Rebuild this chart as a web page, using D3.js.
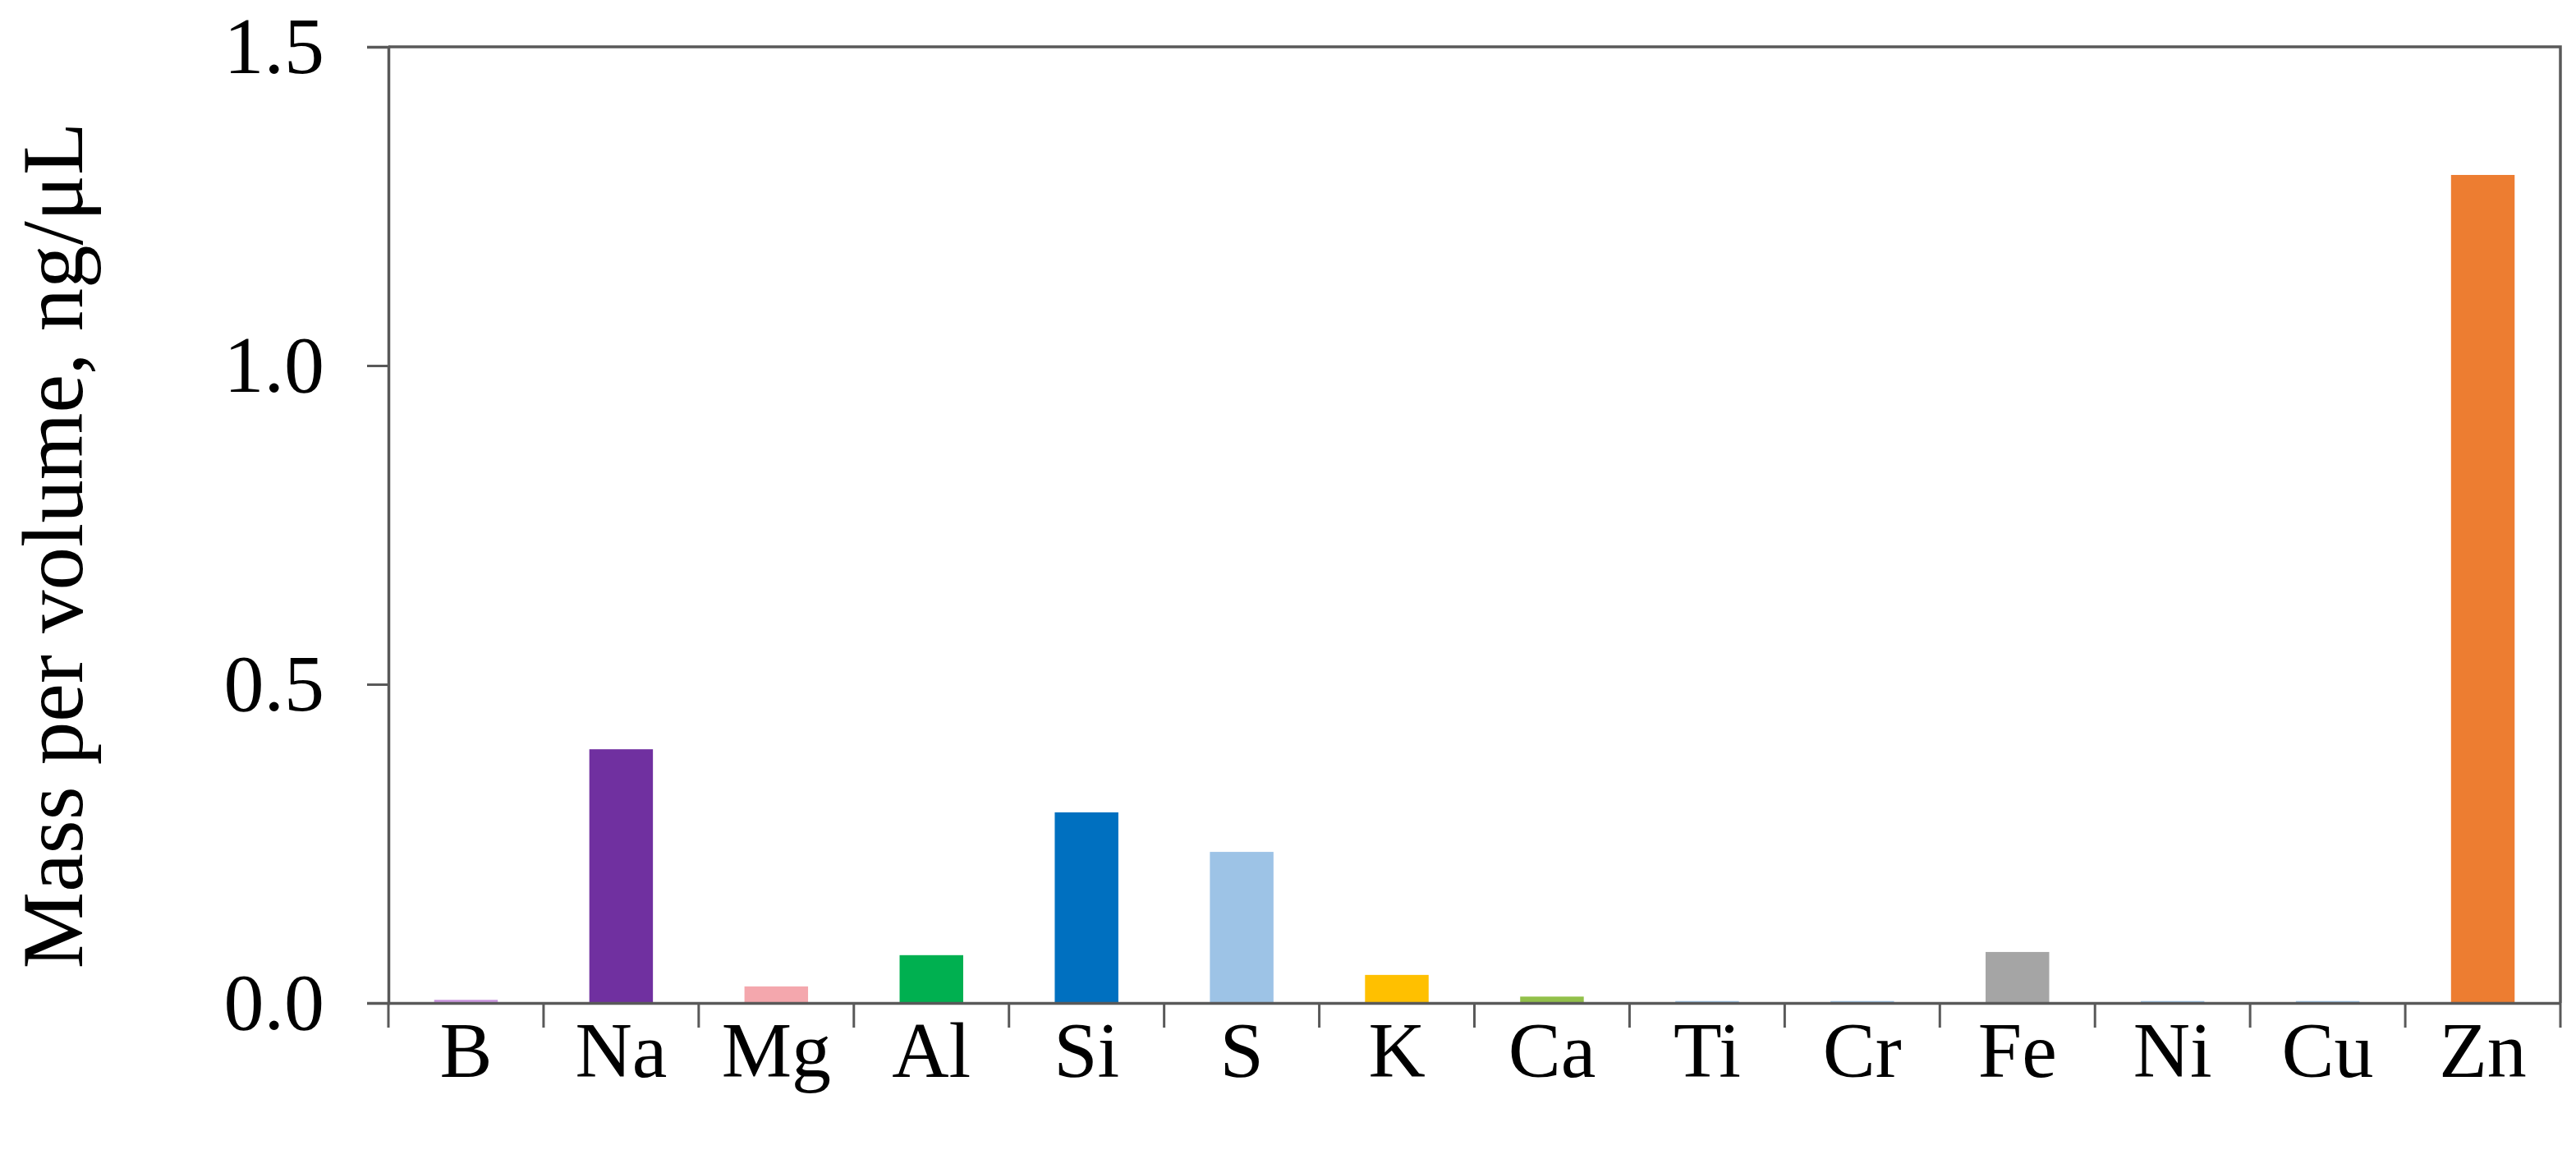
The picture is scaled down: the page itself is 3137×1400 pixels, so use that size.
<!DOCTYPE html>
<html lang="en">
<head>
    <meta charset="UTF-8">
    <title>Mass per volume by element</title>
    <script src="https://d3js.org/d3.v7.min.js"></script>
    <style>
        body { margin: 0; background: #fff; }
        text { font-family: "Liberation Serif", "Times New Roman", serif; fill: #000; }
    </style>
</head>
<body>
    <svg width="3137" height="1400"></svg>
    <script>
        // data
        const elements = ["B", "Na", "Mg", "Al", "Si", "S", "K", "Ca", "Ti", "Cr", "Fe", "Ni", "Cu", "Zn"];
        const values = [0.005, 0.398, 0.026, 0.075, 0.299, 0.237, 0.044, 0.010, 0.003, 0.003, 0.080, 0.003, 0.003, 1.299];
        const colors = ["#cc99e0", "#7030a0", "#f4a7ad", "#00b050", "#0070c0", "#9dc3e6", "#ffc000",
                        "#92c04a", "#9dc3e6", "#9dc3e6", "#a5a5a5", "#9dc3e6", "#9dc3e6", "#ed7d31"];
        const yTicks = [0, 0.5, 1.0, 1.5];
        const yTitle = "Mass per volume, ng/μL";

        const svg = d3.select("svg");
        const W = 3137, H = 1400;
        const m = { top: 57, right: 19, bottom: 179, left: 473 };
        const axisColor = "#595959";

        const x = d3.scaleBand()
            .domain(elements)
            .range([m.left, W - m.right])
            .paddingInner(0.59)
            .paddingOuter(0.295);

        const y = d3.scaleLinear()
            .domain([0, 1.5])
            .range([H - m.bottom, m.top]);

        // bars
        svg.selectAll(".bar")
            .data(elements)
            .join("rect")
            .attr("class", "bar")
            .attr("x", d => x(d))
            .attr("y", (d, i) => y(values[i]))
            .attr("width", x.bandwidth())
            .attr("height", (d, i) => y(0) - y(values[i]))
            .attr("fill", (d, i) => colors[i]);

        // frame: top and right lines
        svg.append("path")
            .attr("d", `M${m.left},${m.top}H${W - m.right}V${H - m.bottom}`)
            .attr("fill", "none")
            .attr("stroke", axisColor)
            .attr("stroke-width", 3.5);

        // y axis
        const yAxis = svg.append("g")
            .attr("transform", `translate(${m.left},0)`)
            .call(d3.axisLeft(y).tickValues(yTicks).tickFormat(d3.format(".1f")).tickSize(26).tickPadding(52));
        yAxis.select(".domain").attr("stroke", axisColor).attr("stroke-width", 3.5);
        yAxis.selectAll(".tick line").attr("stroke", axisColor).attr("stroke-width", 3);
        yAxis.selectAll("text").attr("font-size", 98).attr("font-family", "Liberation Serif");

        // x axis: labels under bars, ticks between categories
        const xAxis = svg.append("g")
            .attr("transform", `translate(0,${y(0)})`)
            .call(d3.axisBottom(x).tickSize(0).tickPadding(22));
        xAxis.select(".domain").attr("stroke", axisColor).attr("stroke-width", 3.5);
        xAxis.selectAll("text").attr("font-size", 96).attr("font-family", "Liberation Serif");

        const step = x.step();
        const bounds = d3.range(elements.length + 1).map(i => m.left + i * step);
        svg.append("g")
            .selectAll("line")
            .data(bounds)
            .join("line")
            .attr("x1", d => d).attr("x2", d => d)
            .attr("y1", y(0)).attr("y2", y(0) + 30)
            .attr("stroke", axisColor)
            .attr("stroke-width", 3);

        // y title
        svg.append("text")
            .attr("transform", "translate(100,664) rotate(-90)")
            .attr("text-anchor", "middle")
            .attr("font-size", 105)
            .text(yTitle);
    </script>
</body>
</html>
